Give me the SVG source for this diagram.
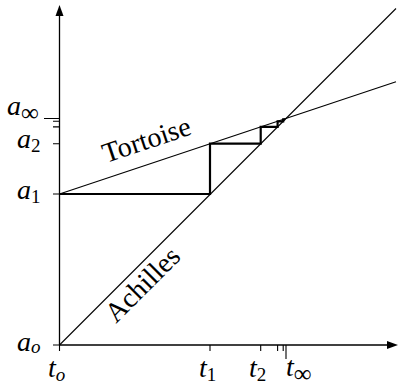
<svg xmlns="http://www.w3.org/2000/svg" width="398" height="386" viewBox="0 0 398 386">
<style>
.ax{stroke:#000;stroke-width:1.3;fill:none}
.tk{stroke:#000;stroke-width:1.1;fill:none}
.ln{stroke:#000;stroke-width:1.1;fill:none}
.st{stroke:#000;stroke-width:2.2;fill:none;stroke-linejoin:miter}
.m{font-family:"Liberation Serif","DejaVu Serif",serif;font-style:italic;font-size:28px;fill:#000}
.s{font-size:19px;font-style:normal}
.si{font-size:19px}
.inf{font-size:25px;font-style:normal}
.w{font-family:"Liberation Serif","DejaVu Serif",serif;font-size:28px;fill:#000}
</style>
<rect width="398" height="386" fill="#fff"/>
<g id="axes">
<line class="ax" x1="59.5" y1="345" x2="59.5" y2="12"/>
<polygon points="59.5,5 55.5,16 63.5,16" fill="#000"/>
<line class="ax" x1="59.5" y1="345" x2="391" y2="345"/>
<polygon points="398,345 387,341 387,349" fill="#000"/>
</g>
<g id="ticks">
<path class="tk" d="M53,345H59.5 M53,194H59.5 M53,143.7H59.5 M53,126.9H59.5 M53,121.3H59.5 M44,118.5H59.5"/>
<path class="tk" d="M59.5,345V351 M210,345V351 M260.7,345V351 M277.6,345V351 M283.2,345V351 M286,345V359"/>
</g>
<g id="connectors">
<line id="achilles-line" class="ln" x1="59.5" y1="345" x2="396" y2="8.5"/>
<line id="tortoise-line" class="ln" x1="59.5" y1="194" x2="396" y2="81.8"/>
<path id="staircase" class="st" d="M59.5,194H210V143.7H260.7V126.9H277.6V121.3H283.2V119.4H285.1"/>
</g>
<g id="labels">
<text class="m" x="7" y="115">a<tspan class="inf" dy="6">∞</tspan></text>
<text class="m" x="17" y="148">a<tspan class="s" dy="4">2</tspan></text>
<text class="m" x="17" y="199">a<tspan class="s" dy="4">1</tspan></text>
<text class="m" x="17" y="351">a<tspan class="si" dy="2">o</tspan></text>
<text class="m" x="48" y="377">t<tspan class="si" dy="4">o</tspan></text>
<text class="m" x="199" y="377">t<tspan class="s" dy="4">1</tspan></text>
<text class="m" x="249" y="377">t<tspan class="s" dy="4">2</tspan></text>
<text class="m" x="286" y="376">t<tspan class="inf" dy="6">∞</tspan></text>
</g>
<g id="tortoise">
<text class="w" transform="translate(106,163) rotate(-18.43)">Tortoise</text>
</g>
<g id="achilles">
<text class="w" transform="translate(116,324) rotate(-45)">Achilles</text>
</g>
</svg>
